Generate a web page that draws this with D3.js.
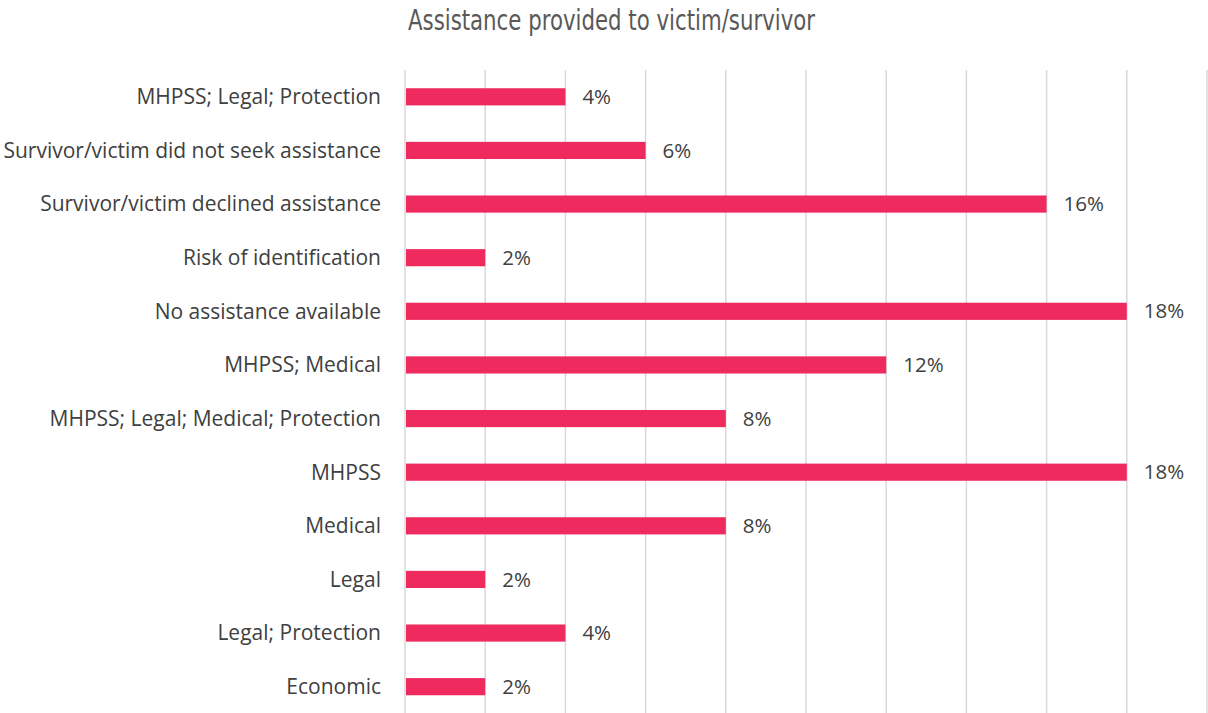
<!DOCTYPE html>
<html>
<head>
<meta charset="utf-8">
<script src="https://cdn.jsdelivr.net/npm/d3@7"></script>
<style>
  body { margin: 0; background: #fff; }
  svg { display: block; }
</style>
</head>
<body>
<svg id="chart" width="1208" height="713"></svg>
<script>
// categories top to bottom, as in the chart
var categories = [
  "MHPSS; Legal; Protection",
  "Survivor/victim did not seek assistance",
  "Survivor/victim declined assistance",
  "Risk of identification",
  "No assistance available",
  "MHPSS; Medical",
  "MHPSS; Legal; Medical; Protection",
  "MHPSS",
  "Medical",
  "Legal",
  "Legal; Protection",
  "Economic"
];
var shares = [0.04, 0.06, 0.16, 0.02, 0.18, 0.12, 0.08, 0.18, 0.08, 0.02, 0.04, 0.02];
var gridTicks = [0, 0.02, 0.04, 0.06, 0.08, 0.10, 0.12, 0.14, 0.16, 0.18, 0.20];

var svg = d3.select("#chart");
// note: "top" is taken by window.top, so use plot* names
var plotLeft = 405, plotRight = 1207, plotTop = 70, plotBottom = 713.5;
var labelFont = "'Open Sans', Lato, sans-serif";

var x = d3.scaleLinear().domain([0, 0.2]).range([plotLeft, plotRight]);
var y = d3.scaleBand().domain(categories).range([plotTop, plotBottom]).paddingInner(0.68).paddingOuter(0.34);

// vertical gridlines
svg.append("g")
  .selectAll("line")
  .data(gridTicks)
  .enter().append("line")
    .attr("x1", function(d) { return x(d); })
    .attr("x2", function(d) { return x(d); })
    .attr("y1", plotTop)
    .attr("y2", 713)
    .attr("stroke", "#d9d9d9")
    .attr("stroke-width", 1.5);

// bars
svg.append("g")
  .selectAll("rect")
  .data(categories)
  .enter().append("rect")
    .attr("x", x(0) + 1)
    .attr("y", function(d) { return y(d); })
    .attr("width", function(d, i) { return x(shares[i]) - x(0) - 1; })
    .attr("height", y.bandwidth())
    .attr("fill", "#ee2a5f");

// category labels
svg.append("g")
  .selectAll("text")
  .data(categories)
  .enter().append("text")
    .attr("x", 381)
    .attr("y", function(d) { return y(d) + y.bandwidth() / 2; })
    .attr("dy", "0.35em")
    .attr("text-anchor", "end")
    .attr("font-family", labelFont)
    .attr("font-size", 21)
    .attr("fill", "#404040")
    .text(function(d) { return d; });

// value labels
svg.append("g")
  .selectAll("text")
  .data(categories)
  .enter().append("text")
    .attr("x", function(d, i) { return x(shares[i]) + 17; })
    .attr("y", function(d) { return y(d) + y.bandwidth() / 2; })
    .attr("dy", "0.35em")
    .attr("font-family", labelFont)
    .attr("font-size", 20.5)
    .attr("fill", "#404040")
    .text(function(d, i) { return Math.round(shares[i] * 100) + "%"; });

// title (condensed face, squeezed to the reference width)
svg.append("text")
  .attr("x", 408)
  .attr("y", 30)
  .attr("font-family", "'DejaVu Sans Condensed', 'Liberation Sans Narrow', sans-serif")
  .attr("font-size", 28)
  .attr("textLength", 407)
  .attr("lengthAdjust", "spacingAndGlyphs")
  .attr("fill", "#595959")
  .text("Assistance provided to victim/survivor");
</script>
</body>
</html>
